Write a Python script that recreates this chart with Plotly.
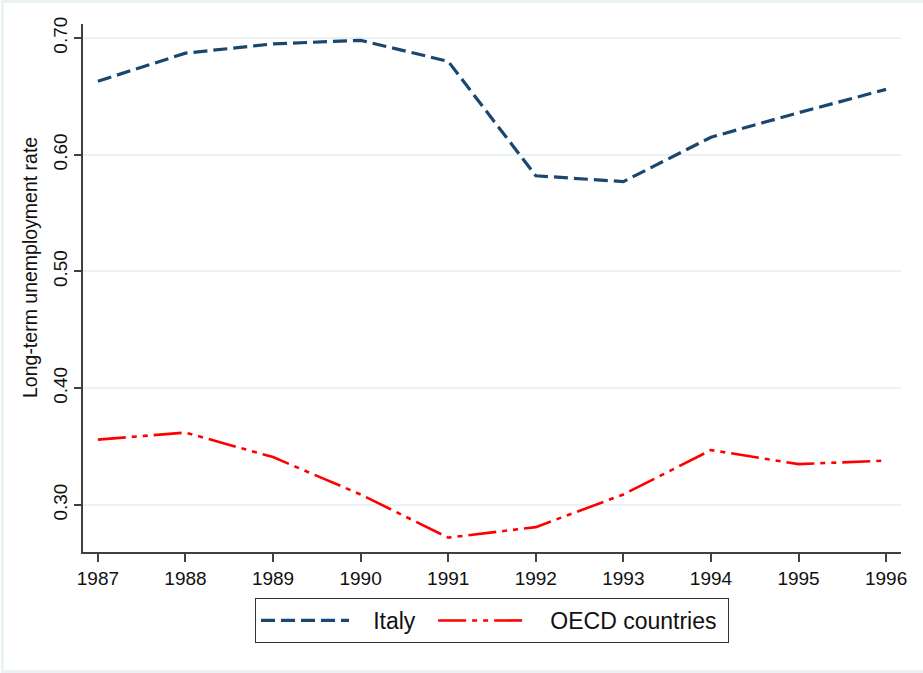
import plotly.graph_objects as go

# Long-term unemployment share, 1987-1996
years = [1987, 1988, 1989, 1990, 1991, 1992, 1993, 1994, 1995, 1996]
italy = [0.663, 0.687, 0.695, 0.698, 0.680, 0.582, 0.577, 0.615, 0.636, 0.656]
oecd = [0.356, 0.362, 0.341, 0.309, 0.272, 0.281, 0.309, 0.347, 0.335, 0.338]

y_ticks = [0.30, 0.40, 0.50, 0.60, 0.70]

NAVY = "#1a476f"
RED = "#ff0000"
AXIS = "#404040"
GRID = "#eaf2f3"
FONT = "Liberation Sans, Arial, sans-serif"
NB = "\u00a0"

W, H = 923, 673
L, R, T, B = 83, 22, 24, 121
pw, ph = W - L - R, H - T - B


def px_x(p):
    return (p - L) / pw


def px_y(p):
    return (H - B - p) / ph


fig = go.Figure()
fig.add_trace(go.Scatter(
    x=years, y=italy, mode="lines", name=NB * 3 + "Italy" + NB * 2,
    line=dict(color=NAVY, width=3.2, dash="14px,6px"),
))
fig.add_trace(go.Scatter(
    x=years, y=oecd, mode="lines", name=NB * 3 + "OECD countries" + NB,
    line=dict(color=RED, width=2.6, dash="28px,6px,5px,6px,5px,6px"),
))

fig.update_layout(
    width=W, height=H,
    margin=dict(l=L, r=R, t=T, b=B),
    paper_bgcolor="white", plot_bgcolor="white",
    font=dict(family=FONT, color="#111111", size=19),
    showlegend=True,
    legend=dict(
        orientation="h",
        x=0.5, xanchor="center",
        y=px_y(598), yanchor="top",
        bordercolor="#333333", borderwidth=1,
        font=dict(size=23, family=FONT, color="#111111"),
        itemwidth=88,
        tracegroupgap=0,
    ),
    xaxis=dict(
        range=[1986.83, 1996.17],
        tickmode="array", tickvals=years, ticktext=[str(y) for y in years],
        showgrid=False, zeroline=False,
        showline=True, linecolor=AXIS, linewidth=1.5,
        ticks="outside", ticklen=8, tickwidth=1.5, tickcolor=AXIS,
        tickfont=dict(size=19, family=FONT, color="#111111"),
    ),
    yaxis=dict(
        range=[0.2597, 0.712],
        tickmode="array", tickvals=y_ticks,
        ticktext=[f"{v:.2f}" for v in y_ticks],
        tickangle=-90,
        showgrid=True, gridcolor=GRID, gridwidth=1.5,
        zeroline=False,
        showline=True, linecolor=AXIS, linewidth=1.5,
        ticks="outside", ticklen=7, tickwidth=1.5, tickcolor=AXIS,
        tickfont=dict(size=19, family=FONT, color="#111111"),
    ),
    annotations=[dict(
        text="Long-term unemployment rate",
        xref="paper", yref="paper",
        x=px_x(30), y=px_y(268),
        xanchor="center", yanchor="middle",
        textangle=-90, showarrow=False,
        font=dict(size=19.5, family=FONT, color="#111111"),
    )],
    shapes=[dict(
        type="rect", xref="paper", yref="paper",
        x0=px_x(2.5), x1=px_x(940), y0=px_y(671.5), y1=px_y(1.5),
        line=dict(color=GRID, width=3), fillcolor="rgba(0,0,0,0)",
        layer="below",
    )],
)

fig.write_html("out.html")
